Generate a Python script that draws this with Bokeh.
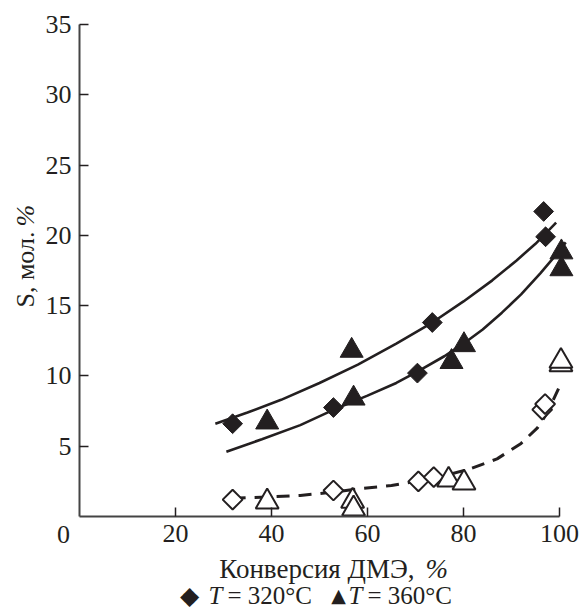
import math
from bokeh.plotting import figure
from bokeh.models import Range1d, Label, FixedTicker, LinearAxis
from bokeh.embed import file_html
from bokeh.resources import INLINE

# ---- data ----
x_ticks = [20, 40, 60, 80, 100]
y_ticks = [5, 10, 15, 20, 25, 30, 35]

# filled symbols (solid fits)
d320_x = [31.9, 52.9, 70.4, 73.5, 96.7, 97.1]
d320_y = [6.6, 7.75, 10.2, 13.8, 21.7, 19.9]
t360_x = [39.1, 56.7, 57.1, 77.5, 80.1, 100.4, 100.4]
t360_y = [6.7, 11.8, 8.4, 11.0, 12.2, 18.8, 17.6]

# open symbols (dashed fit)
od320_x = [31.9, 52.9, 70.6, 73.8, 96.4, 97.0]
od320_y = [1.2, 1.85, 2.5, 2.8, 7.6, 8.0]
ot360_x = [39.1, 56.9, 57.1, 76.9, 80.1, 100.3, 100.3]
ot360_y = [1.05, 1.1, 0.55, 2.6, 2.4, 10.8, 11.05]

# fitted curves
fit_upper_x = [28.3, 35, 42, 50, 58, 66, 73.5, 80, 86, 91, 95, 99.3]
fit_upper_y = [6.6, 7.4, 8.3, 9.5, 10.8, 12.3, 13.8, 15.3, 16.8, 18.2, 19.4, 20.9]
fit_lower_x = [30.6, 38, 46, 53, 60, 66, 70.4, 76, 80.4, 84, 88, 92, 96, 99, 101.3]
fit_lower_y = [4.6, 5.5, 6.5, 7.6, 8.6, 9.5, 10.3, 11.4, 12.4, 13.3, 14.5, 15.8, 17.3, 18.5, 19.5]
fit_dash_x = [31.9, 40, 46, 52, 59, 65, 70, 75, 81.5, 87, 92, 95.4, 97.5, 99.8]
fit_dash_y = [1.3, 1.4, 1.5, 1.7, 2.0, 2.2, 2.5, 2.8, 3.4, 4.1, 5.2, 6.3, 7.4, 9.1]

INK = "#231f20"
SERIF = "Liberation Serif"
FS = "26px"

W, H = 581, 609
# pixel position of the data origin and scale
OX, OY = 79, 516
PX_X = 4.8
PX_Y = (516 - 24) / 35.0

x0 = -OX / PX_X
x1 = (W - OX) / PX_X
y0 = -(H - OY) / PX_Y
y1 = OY / PX_Y

p = figure(width=W, height=H, output_backend="svg", toolbar_location=None,
           x_range=Range1d(x0, x1), y_range=Range1d(y0, y1),
           x_axis_location=None, y_axis_location=None,
           min_border=0, min_border_left=0, min_border_right=0,
           min_border_top=0, min_border_bottom=0)
p.outline_line_color = None
p.xgrid.grid_line_color = None
p.ygrid.grid_line_color = None
p.background_fill_color = "white"
p.border_fill_color = "white"

xaxis = LinearAxis(fixed_location=0, ticker=FixedTicker(ticks=x_ticks), bounds=(0, 100))
yaxis = LinearAxis(fixed_location=0, ticker=FixedTicker(ticks=y_ticks), bounds=(0, 35))
for ax in (xaxis, yaxis):
    ax.axis_line_color = "#444444"
    ax.axis_line_width = 2
    ax.major_tick_line_color = INK
    ax.major_tick_line_width = 1.5
    ax.major_tick_in = 9
    ax.major_tick_out = 0
    ax.minor_tick_line_color = None
    ax.major_label_text_font = SERIF
    ax.major_label_text_font_size = FS
    ax.major_label_text_color = INK
    ax.major_label_standoff = 8
p.add_layout(xaxis, "below")
p.add_layout(yaxis, "left")

# curves
p.line(fit_upper_x, fit_upper_y, line_color=INK, line_width=2.6)
p.line(fit_lower_x, fit_lower_y, line_color=INK, line_width=2.6)
p.line(fit_dash_x, fit_dash_y, line_color=INK, line_width=3, line_dash="13 9")

# markers
p.scatter(d320_x, d320_y, marker="square", angle=math.pi / 4, size=14,
          fill_color=INK, line_color=INK, line_width=1)
p.scatter(t360_x, t360_y, marker="triangle", size=23,
          fill_color=INK, line_color=INK, line_width=1)
p.scatter(od320_x, od320_y, marker="square", angle=math.pi / 4, size=14,
          fill_color="white", line_color=INK, line_width=2)
p.scatter(ot360_x, ot360_y, marker="triangle", size=23,
          fill_color="white", line_color=INK, line_width=2)


def dx(px):
    return (px - OX) / PX_X


def dy(py):
    return (OY - py) / PX_Y


def lab(text, px, py, align="left", style="normal", font=SERIF, size=FS, angle=0.0):
    p.add_layout(Label(x=dx(px), y=dy(py), text=text, text_align=align,
                       text_baseline="middle", text_font=font, text_font_size=size,
                       text_font_style=style, text_color=INK, angle=angle))


# origin label
lab("0", 63, 534, align="center")

# x-axis title
lab("Конверсия ДМЭ,", 414, 568, align="right", size="27px")
lab("%", 425, 568, style="italic", size="27px")

# y-axis title (rotated)
lab("S, мол.", 25, 231, align="right", angle=math.pi / 2)
lab("%", 25, 226, align="left", style="italic", angle=math.pi / 2)

# legend line
LY = 595
lab("◆", 189, LY, align="center", font="DejaVu Sans", size="25px")
lab("T", 208, LY, style="italic", size="25px")
lab("= 320°C", 227, LY, size="25px")
lab("▲", 338, LY - 1, align="center", font="DejaVu Sans", size="19px")
lab("T", 348, LY, style="italic", size="25px")
lab("= 360°C", 367, LY, size="25px")

open("out.html", "w").write(file_html(p, INLINE))
